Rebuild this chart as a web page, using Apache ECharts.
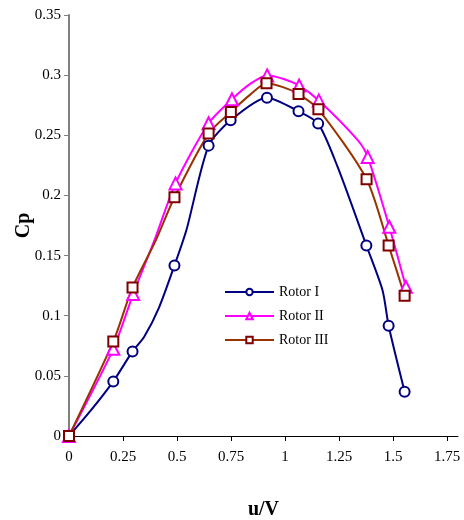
<!DOCTYPE html>
<html>
<head>
<meta charset="utf-8">
<script src="https://cdn.jsdelivr.net/npm/echarts@6/dist/echarts.min.js"></script>
<style>
  html, body { margin: 0; padding: 0; background: #fff; }
  #chart { width: 464px; height: 520px; }
</style>
</head>
<body>
<div id="chart"></div>
<script>
// [u/V, Cp, showMarker]
var rotor1 = [
  [0, 0, 1], [0.1, 0.021, 0], [0.205, 0.0454, 1], [0.294, 0.0703, 1],
  [0.348, 0.0825, 0], [0.417, 0.107, 0], [0.488, 0.1418, 1], [0.543, 0.171, 0],
  [0.646, 0.2414, 1], [0.748, 0.2625, 1], [0.916, 0.2813, 1], [1.062, 0.270, 1],
  [1.153, 0.2597, 1], [1.243, 0.2237, 0], [1.376, 0.1584, 1], [1.451, 0.121, 0],
  [1.479, 0.0916, 1], [1.553, 0.0368, 1]
];
var rotor2 = [
  [0, 0, 1], [0.205, 0.0725, 1], [0.297, 0.118, 1], [0.4, 0.165, 0],
  [0.493, 0.21, 1], [0.646, 0.260, 1], [0.754, 0.280, 1], [0.84, 0.293, 0],
  [0.917, 0.2998, 1], [0.99, 0.297, 0], [1.065, 0.2913, 1], [1.156, 0.279, 1],
  [1.336, 0.246, 0], [1.382, 0.232, 1], [1.482, 0.174, 1], [1.559, 0.124, 1]
];
var rotor3 = [
  [0, 0, 1], [0.205, 0.0786, 1], [0.294, 0.1235, 1], [0.4, 0.162, 0],
  [0.488, 0.1985, 1], [0.646, 0.2514, 1], [0.749, 0.2694, 1], [0.84, 0.284, 0],
  [0.914, 0.2932, 1], [0.99, 0.290, 0], [1.062, 0.2843, 1], [1.154, 0.2716, 1],
  [1.377, 0.2135, 1], [1.479, 0.1584, 1], [1.553, 0.1165, 1]
];
var seriesNames = ["Rotor I", "Rotor II", "Rotor III"];

var FONT = "'Liberation Serif', 'Times New Roman', serif";

function toData(arr) {
  return arr.map(function (p) {
    return p[2] ? [p[0], p[1]] : { value: [p[0], p[1]], symbol: "none" };
  });
}

function makeSeries(name, arr, lineColor, markColor, symbol, size) {
  return {
    name: name,
    type: "line",
    data: toData(arr),
    smooth: 0.25,
    symbol: symbol,
    symbolSize: size,
    showAllSymbol: true,
    lineStyle: { color: lineColor, width: 2 },
    itemStyle: { color: "#fff", borderColor: markColor, borderWidth: 2 },
    emphasis: { disabled: true },
    z: 3
  };
}

var chart = echarts.init(document.getElementById("chart"));
chart.setOption({
  animation: false,
  backgroundColor: "#fff",
  textStyle: { fontFamily: FONT },
  grid: { left: 69, right: 6, top: 15, bottom: 84, outerBoundsMode: "none", containLabel: false },
  legend: {
    left: 219,
    top: 280,
    orient: "vertical",
    itemWidth: 49,
    itemHeight: 8,
    itemGap: 10,
    textStyle: { fontFamily: FONT, fontSize: 14, color: "#000" },
    data: seriesNames
  },
  xAxis: {
    type: "value",
    min: 0,
    max: 1.8,
    interval: 0.25,
    name: "u/V",
    nameLocation: "middle",
    nameGap: 64,
    nameMoveOverlap: false,
    nameTextStyle: { fontFamily: FONT, fontSize: 20, fontWeight: "bold", color: "#000" },
    axisLine: { onZero: false, lineStyle: { color: "#000", width: 1 } },
    axisTick: { show: true, length: 5, lineStyle: { color: "#000" } },
    axisLabel: { margin: 14, fontSize: 15, color: "#000", fontFamily: FONT, showMaxLabel: false },
    splitLine: { show: false }
  },
  yAxis: {
    type: "value",
    min: 0,
    max: 0.35,
    interval: 0.05,
    name: "Cp",
    nameLocation: "middle",
    nameGap: 35,
    nameMoveOverlap: false,
    nameTextStyle: { fontFamily: FONT, fontSize: 20, fontWeight: "bold", color: "#000" },
    axisLine: { show: true, lineStyle: { color: "#808080", width: 2 } },
    axisTick: { show: true, length: 5, lineStyle: { color: "#808080" } },
    axisLabel: { margin: 8, fontSize: 15, color: "#000", fontFamily: FONT },
    splitLine: { show: false }
  },
  series: [
    makeSeries(seriesNames[0], rotor1, "#000080", "#000080", "circle", 10),
    makeSeries(seriesNames[1], rotor2, "#ff00ff", "#ff00ff", "triangle", 12),
    makeSeries(seriesNames[2], rotor3, "#993300", "#800000", "rect", 10)
  ]
});
</script>
</body>
</html>
